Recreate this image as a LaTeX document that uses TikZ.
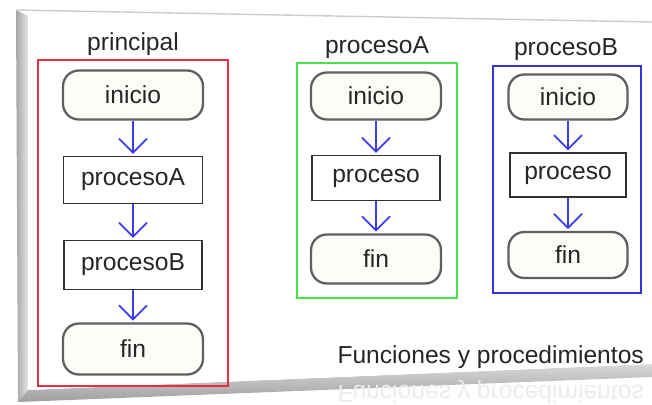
\documentclass[tikz,border=0pt]{standalone}
\usepackage{fontspec}
\setmainfont{Liberation Sans}
\usetikzlibrary{arrows.meta}

\definecolor{marcorojo}{RGB}{232,48,58}
\definecolor{marcoverde}{RGB}{70,228,70}
\definecolor{marcoazul}{RGB}{52,52,220}
\definecolor{flechaazul}{RGB}{60,60,235}
\definecolor{crema}{RGB}{252,252,249}

\tikzset{
	term/.style={draw=gray!75!black, line width=1.3pt, fill=crema, rounded corners=9pt, text=black!85, font=\fontsize{14}{16}\selectfont},
	proc/.style={draw=black!80, line width=1pt, fill=white, text=black!85, font=\fontsize{14}{16}\selectfont},
	flecha/.style={draw=flechaazul, line width=1pt, -{Straight Barb[length=8pt,width=16pt]}, shorten >=1pt},
	titulo/.style={font=\fontsize{14}{16}\selectfont, text=black!85}
}

\begin{document}
\begin{tikzpicture}[x=0.02cm, y=-0.02cm]
	\useasboundingbox (0,0) rectangle (652,405);
	\fill[white] (0,0) rectangle (652,405);
	
	% panel
	\shade[left color=gray!70, right color=gray!20] (16,10) -- (28,16) -- (28,390) -- (18,402) -- cycle;
	\shade[top color=gray!30, bottom color=gray!75] (18,402) -- (28,390) -- (652,364) -- (652,377) -- cycle;
	\fill[white] (28,16) -- (652,26) -- (652,364) -- (28,390) -- cycle;
	\draw[gray!40, line width=0.8pt] (16,10) -- (652,22);
	
	% principal
	\node[titulo] (tprin) at (133,44) {principal};
	\draw[marcorojo, line width=1.3pt] (38,60) rectangle (228,386);
	\node[term, minimum width=2.8cm, minimum height=0.98cm] (ini1) at (133,95) {inicio};
	\node[proc, minimum width=2.78cm, minimum height=0.94cm] (pa1) at (133,180) {procesoA};
	\node[proc, minimum width=2.76cm, minimum height=0.98cm] (pb1) at (133,265) {procesoB};
	\node[term, minimum width=2.8cm, minimum height=1.02cm] (fin1) at (133,349) {fin};
	\draw[flecha] (ini1) -- (pa1);
	\draw[flecha] (pa1) -- (pb1);
	\draw[flecha] (pb1) -- (fin1);
	
	% procesoA
	\node[titulo] (tpa) at (377,48) {procesoA};
	\draw[marcoverde, line width=1.3pt] (297,63) rectangle (457,298);
	\node[term, minimum width=2.6cm, minimum height=0.94cm] (ini2) at (376,96) {inicio};
	\node[proc, minimum width=2.56cm, minimum height=0.9cm] (pr2) at (376,178) {proceso};
	\node[term, minimum width=2.6cm, minimum height=0.98cm] (fin2) at (376,259) {fin};
	\draw[flecha] (ini2) -- (pr2);
	\draw[flecha] (pr2) -- (fin2);
	
	% procesoB
	\node[titulo] (tpb) at (566,50) {procesoB};
	\draw[marcoazul, line width=1.3pt] (493,66) rectangle (641,293);
	\node[term, minimum width=2.38cm, minimum height=0.9cm] (ini3) at (568,97) {inicio};
	\node[proc, minimum width=2.32cm, minimum height=0.88cm] (pr3) at (568,175) {proceso};
	\node[term, minimum width=2.38cm, minimum height=0.92cm] (fin3) at (568,255) {fin};
	\draw[flecha] (ini3) -- (pr3);
	\draw[flecha] (pr3) -- (fin3);
	
	% pie y reflejo
	\node[titulo, anchor=east] (pie) at (650,357) {Funciones y procedimientos};
	\node[titulo, anchor=east, text=gray!15, yscale=-1] (reflejo) at (650,392) {Funciones y procedimientos};
\end{tikzpicture}
\end{document}
